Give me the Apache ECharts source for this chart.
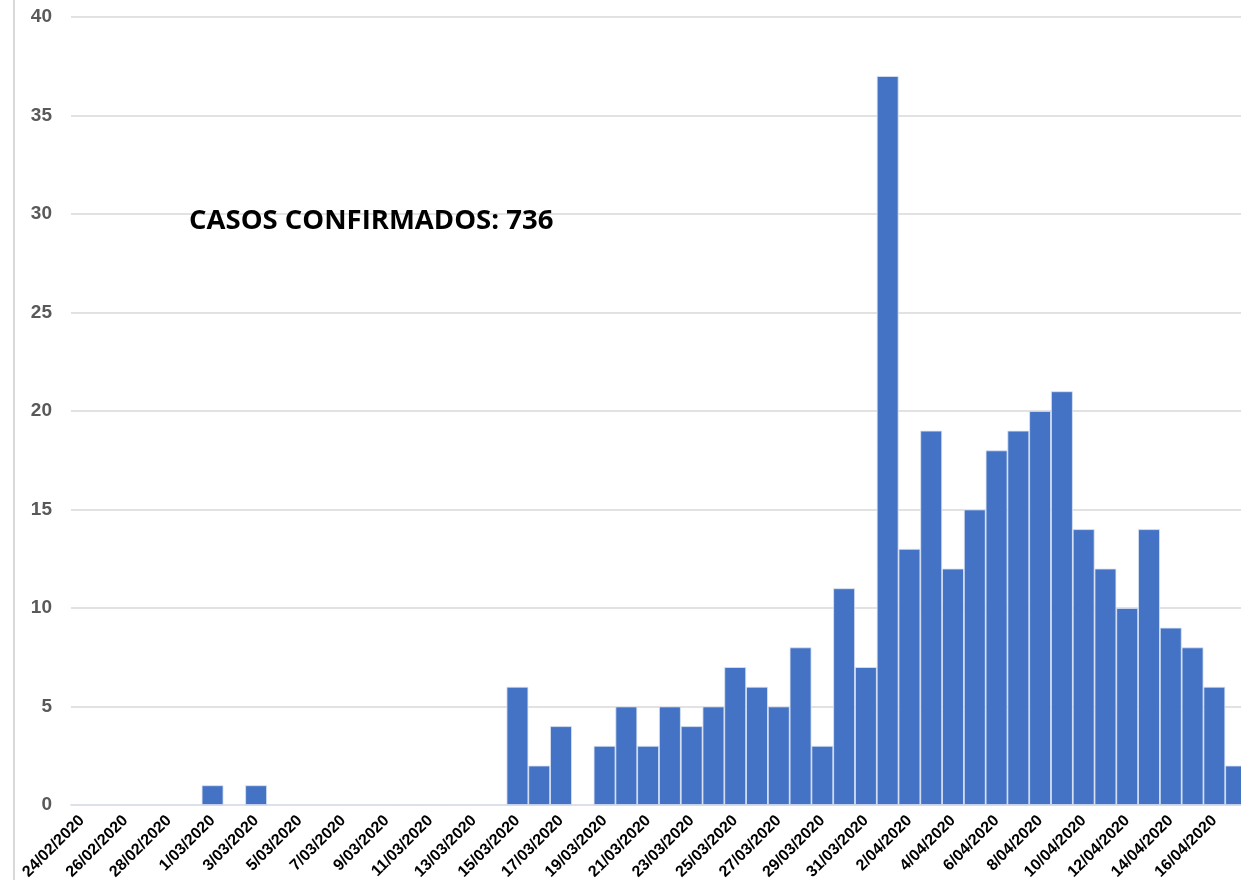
<!DOCTYPE html>
<html>
<head>
<meta charset="utf-8">
<script src="https://cdn.jsdelivr.net/npm/echarts@6/dist/echarts.min.js"></script>
<style>
  html, body { margin: 0; padding: 0; background: #fff; overflow: hidden; }
  #chart { width: 1247px; height: 880px; }
</style>
</head>
<body>
<div id="chart"></div>
<script>
// fechas (24/02/2020 - 17/04/2020)
const dates = [
  '24/02/2020', '25/02/2020', '26/02/2020', '27/02/2020', '28/02/2020', '29/02/2020',
  '1/03/2020', '2/03/2020', '3/03/2020', '4/03/2020', '5/03/2020', '6/03/2020', '7/03/2020',
  '8/03/2020', '9/03/2020', '10/03/2020', '11/03/2020', '12/03/2020', '13/03/2020', '14/03/2020',
  '15/03/2020', '16/03/2020', '17/03/2020', '18/03/2020', '19/03/2020', '20/03/2020', '21/03/2020',
  '22/03/2020', '23/03/2020', '24/03/2020', '25/03/2020', '26/03/2020', '27/03/2020', '28/03/2020',
  '29/03/2020', '30/03/2020', '31/03/2020',
  '1/04/2020', '2/04/2020', '3/04/2020', '4/04/2020', '5/04/2020', '6/04/2020', '7/04/2020',
  '8/04/2020', '9/04/2020', '10/04/2020', '11/04/2020', '12/04/2020', '13/04/2020', '14/04/2020',
  '15/04/2020', '16/04/2020', '17/04/2020'
]
// casos nuevos por dia
const casos = [
  0, 0, 0, 0, 0, 0,
  1, 0, 1, 0, 0, 0, 0,
  0, 0, 0, 0, 0, 0, 0,
  6, 2, 4, 0, 3, 5, 3,
  5, 4, 5, 7, 6, 5, 8,
  3, 11, 7,
  37, 13, 19, 12, 15, 18, 19,
  20, 21, 14, 12, 10, 14, 9,
  8, 6, 2
]
const yTicks = { min: 0, max: 40, interval: 5 }
const anotacion = 'CASOS CONFIRMADOS: 736'

// el grafico original queda cortado por la derecha, por eso el div es mas ancho que la ventana
const chart = echarts.init(document.getElementById('chart'))
const option = {
  animation: false,
  grid: {
    left: 71,
    right: 0,
    top: 17,
    bottom: 75,
    outerBoundsMode: 'none'
  },
  graphic: [
    {
      type: 'rect',
      shape: { x: 13, y: 0, width: 2, height: 880 },
      style: { fill: '#d9d9d9' }
    },
    {
      type: 'text',
      left: 189,
      top: 207,
      z: 10,
      style: {
        text: anotacion,
        font: 'bold 27.5px "Open Sans"',
        fill: '#000'
      }
    }
  ],
  xAxis: {
    type: 'category',
    data: dates,
    axisLine: { lineStyle: { color: '#d9d9d9', width: 1.5 } },
    axisTick: { show: false },
    axisLabel: {
      interval: 1,
      rotate: 45,
      margin: 13,
      color: '#000',
      fontWeight: 'bold',
      fontSize: 16,
      fontFamily: 'Liberation Sans'
    }
  },
  yAxis: {
    type: 'value',
    min: yTicks.min,
    max: yTicks.max,
    interval: yTicks.interval,
    axisLine: { show: false },
    axisTick: { show: false },
    splitLine: { lineStyle: { color: '#d9d9d9', width: 1.5 } },
    axisLabel: {
      margin: 19,
      color: '#595959',
      fontWeight: 'bold',
      fontSize: 19,
      fontFamily: 'Liberation Sans'
    }
  },
  series: [
    {
      type: 'bar',
      data: casos,
      barCategoryGap: '0%',
      itemStyle: {
        color: '#4472c4',
        borderColor: '#dbe3f3',
        borderWidth: 0.8
      }
    }
  ]
}
chart.setOption(option)
</script>
</body>
</html>
